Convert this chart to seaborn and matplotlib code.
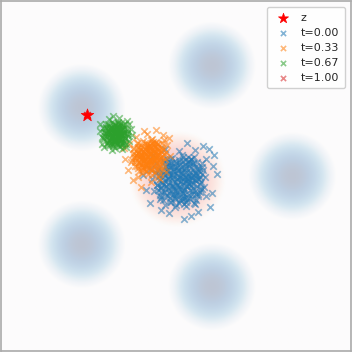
import numpy as np
import matplotlib
matplotlib.use("Agg")
import matplotlib.pyplot as plt
import seaborn as sns

# ---- data (data units, axis range -6..6) ----
mode_x = [4.00, 1.24, -3.24, -3.24, 1.24]
mode_y = [0.00, 3.80, 2.35, -2.35, -3.80]
mode_sigma = 0.5
mode_floor = -4.6          # log-density shown down to this level
init_x = [0.05]
init_y = [-0.10]
init_sigma = 0.5
init_floor = -5.5

z_x = [-3.07]
z_y = [2.10]

t0_x = [0.19, -0.24, 0.52, -0.01, 0.34, -0.48, 0.10, 0.73, -0.12, 0.45,
        -0.35, 0.16, -0.64, 0.59, -0.17, 0.88, -0.06, 0.28, -0.40, 0.42,
        0.05, 0.65, -0.29, 0.21, -0.56, 0.79, -0.81, 0.36, 0.08, -0.20,
        0.54, -0.44, 0.25, -0.02, 1.00, -0.26, 0.69, -0.68, 0.31, -0.09,
        0.48, 0.13, -0.51, 0.84, -0.14, 0.40, -0.37, 0.62, 0.02, 0.23,
        -0.60, 0.94, -0.22, 0.18, 0.56, -0.32, 0.33, -0.05, 0.75, -0.74,
        0.11, -0.46, 0.46, 1.04, -0.91, 0.38, 0.00, 0.26, -0.28, 0.68,
        1.32, 1.12, 0.52, -0.23, 1.22, 0.92, -0.53, 1.42, 0.27, -0.88,
        1.17, 0.77, -1.03, 0.37, 1.27, -0.38, 1.02, -0.78, 0.67, -1.13,
        0.15, -0.15, 0.43, -0.39, 0.21, 0.60, -0.04, 0.32, -0.25, 0.79,
        0.04, 0.51, -0.54, 0.24, 0.64, -0.11, 0.09, -0.67, 0.90, 0.35,
        0.15, -0.05, 0.42, -0.31, 0.32, 0.03, 0.61, -0.18, 0.23, 0.71,
        -0.45, 0.47, -0.09, 0.12, 0.54, -0.53, 0.36, -0.24, 0.81, -0.01,
        0.27, -0.36, 0.68, 0.08, 0.45, -0.60, 0.19, 0.58, -0.14, 0.76,
        -0.28, 0.31, -0.04, 0.39, -0.47, 0.86, 0.13, -0.21, 0.65, 0.02,
        0.50, -0.39, 0.22, -0.11, 0.79, -0.55, 0.43, 0.10, -0.33, 0.34,
        0.67, -0.06, 0.55, -0.64, 0.18, -0.23, 0.72, 0.05, 0.37, -0.42,
        0.90, -0.15, 0.25, 0.46, -0.50, 0.60, -0.02, 0.29, -0.30, 0.83,
        0.16, -0.19, 0.52, -0.58, 0.40, -0.08, 0.73, -0.37, 0.21, 0.62,
        -0.26, 0.30, -0.70, 0.57, 0.01, 0.48, -0.43, 0.95, -0.13, 0.11,
        0.38, -0.34, 0.77, -0.03, 0.24, -0.48, 0.53, -0.25, 0.69, 0.09,
        0.34, -0.62, 0.88, -0.10, 0.44, 0.04, 0.64, -0.40, 0.26, 0.20,
        -0.20, 0.81, -0.32, 0.56, -0.07, 0.41, -0.52, 0.70, 0.14, -0.17]
t0_y = [-0.07, 0.10, -0.30, -0.64, 0.26, -0.23, 0.49, 0.02, -0.39, -0.75,
        0.35, -0.17, 0.19, 0.46, -0.91, -0.45, 0.17, -0.48, -0.56, 0.00,
        -0.30, -0.14, -0.07, 0.71, -0.78, 0.29, -0.10, -1.03, 0.21, 0.59,
        -0.53, 0.07, 0.07, -0.50, -0.05, -0.70, -0.84, 0.43, 0.40, -0.04,
        0.15, -0.83, -0.41, -0.27, 0.34, -0.25, -0.98, 0.67, 0.03, -0.60,
        0.00, 0.21, -0.24, 0.32, -0.07, 0.22, -0.34, -1.07, -0.63, -0.53,
        0.86, 0.56, 0.52, -0.70, 0.25, -0.11, 0.45, -0.74, -0.45, 0.10,
        0.73, 0.93, -1.37, -1.27, -0.57, 1.03, -1.17, 0.08, -1.47, -0.92,
        -1.07, -1.22, -0.47, 1.13, 0.33, 0.93, 0.58, 0.73, 0.88, 0.03,
        -0.37, 0.03, 0.33, -0.16, 0.14, -0.41, -0.74, -0.20, 0.46, -0.11,
        -0.54, 0.57, -0.64, 0.53, -0.97, -0.33, -0.04, -0.30, 0.43, -0.88,
        -0.02, -0.22, -0.09, 0.14, -0.45, 0.30, 0.19, -0.51, -0.69, -0.36,
        -0.05, 0.43, 0.07, -0.35, -0.61, -0.39, 0.15, 0.38, -0.03, -0.80,
        -0.12, -0.65, 0.33, 0.17, -0.26, 0.24, -0.52, 0.04, -0.33, -0.70,
        -0.12, 0.54, 0.51, -0.82, -0.19, -0.22, 0.41, -0.74, -0.50, -0.09,
        0.26, 0.33, -0.27, -0.61, 0.17, 0.03, -0.64, -0.92, -0.45, 0.33,
        -0.13, 0.24, -0.77, -0.30, 0.09, 0.00, 0.48, -0.61, -0.34, 0.49,
        0.08, -0.08, 0.66, 0.10, -0.54, -0.29, -0.43, -0.97, 0.23, -0.54,
        0.24, -0.89, -0.07, -0.14, 0.47, -0.17, 0.25, 0.05, -0.74, -0.94,
        -0.27, -0.02, 0.11, 0.40, -1.01, -0.47, -0.81, -0.39, 0.63, -0.14,
        -0.17, -0.34, -0.09, 0.36, -0.59, 0.16, 0.57, -0.58, -0.63, 0.55,
        -0.72, -0.48, 0.32, 0.16, 0.01, -0.30, 0.12, -0.26, 0.23, -0.84,
        0.30, -0.44, 0.57, -0.19, -0.70, 0.64, -0.72, 0.01, -0.45, 0.46]

t33_x = [-0.90, -1.18, -0.71, -1.02, -0.82, -1.30, -0.95, -0.60, -1.12, -0.77,
         -1.40, -0.88, -1.05, -0.66, -1.22, -0.93, -0.54, -1.35, -0.99, -0.73,
         -1.15, -0.84, -1.08, -0.62, -1.48, -0.97, -0.79, -1.25, -0.50, -1.10,
         -0.86, -1.32, -0.68, -1.01, -0.92, -0.58, -1.20, -0.75, -1.43, -0.96,
         -0.81, -1.13, -0.45, -1.28, -0.70, -1.06, -0.89, -1.55, -0.64, -1.17,
         -0.40, -0.69, -1.10, -1.48, -1.21, -0.30, -1.75, -0.35, -1.60, -0.55,
         -1.30, -0.20, -0.85, -1.65, -0.45, -0.98, -1.80, -0.25, -1.38, -0.62,
         -0.93, -1.04, -0.78, -1.14, -0.87, -1.00, -0.72, -1.24, -0.66, -1.20,
         -0.85, -0.98, -0.57, -1.33, -0.91, -1.08, -0.76, -1.16, -0.83, -1.27,
         -0.91, -1.07, -0.70, -1.26, -0.78, -1.00, -0.57, -1.16, -0.85, -0.49,
         -1.36, -0.67, -1.09, -0.93, -0.62, -1.42, -0.76, -1.21, -0.42, -1.03,
         -0.82, -1.30, -0.52, -0.97, -0.69, -1.47, -0.88, -0.59, -1.13, -0.46,
         -1.23, -0.79, -1.06, -0.73, -1.38, -0.38, -0.93, -1.18, -0.54, -1.01,
         -0.65, -1.32, -0.86, -1.11, -0.43, -1.44, -0.70, -0.95, -1.27, -0.77,
         -0.52, -1.07, -0.61, -1.50, -0.89, -1.20, -0.49, -0.99, -0.75, -1.34,
         -0.35, -1.14, -0.84, -0.68, -1.40, -0.58, -1.04, -0.81, -1.25, -0.40,
         -0.90, -1.17, -0.64, -1.46, -0.72, -1.08, -0.48, -1.30, -0.87, -0.56]
t33_y = [0.76, 0.62, 0.55, 0.98, 0.89, 0.80, 0.41, 0.73, 0.45, 1.05,
         0.55, 0.60, 0.72, 0.92, 1.01, 0.28, 0.48, 0.33, 1.14, 0.35,
         0.85, 0.50, 0.58, 1.10, 0.74, 0.82, 0.67, 0.66, 0.86, 0.25,
         1.22, 1.12, 0.62, 0.50, 0.95, 0.30, 0.40, 0.80, 0.95, 0.64,
         0.20, 1.20, 0.65, 0.18, 1.18, 0.36, 1.06, 0.48, 0.44, 0.72,
         1.25, 1.59, 1.55, -0.14, -0.38, 1.05, 0.60, 0.15, 1.10, -0.10,
         -0.05, 0.70, -0.20, 0.20, 1.40, 1.45, 0.95, 1.30, 1.35, -0.05,
         0.70, 0.88, 0.58, 0.56, 0.80, 0.40, 0.98, 0.88, 0.72, 0.60,
         0.42, 1.05, 0.58, 0.68, 0.52, 0.78, 0.86, 0.30, 1.13, 0.48,
         0.75, 0.60, 0.69, 0.87, 0.42, 0.99, 0.91, 0.38, 0.25, 0.50,
         0.73, 1.09, 0.82, 0.50, 0.31, 0.47, 0.88, 1.05, 0.74, 0.16,
         0.67, 0.28, 1.01, 0.89, 0.57, 0.94, 0.37, 0.79, 0.52, 0.24,
         0.68, 1.17, 1.15, 0.15, 0.62, 0.60, 1.07, 0.21, 0.39, 0.70,
         0.96, 1.01, 0.56, 0.31, 0.89, 0.79, 0.28, 0.08, 0.43, 1.01,
         0.67, 0.94, 0.19, 0.54, 0.83, 0.76, 1.12, 0.31, 0.51, 1.13,
         0.82, 0.70, 1.26, 0.84, 0.36, 0.55, 0.44, 0.04, 0.94, 0.36,
         0.95, 0.10, 0.71, 0.66, 1.12, 0.64, 0.95, 0.80, 0.21, 0.06]

t67_x = [-2.05, -2.20, -1.92, -2.10, -1.98, -2.30, -2.07, -1.80, -2.18, -1.95,
         -2.38, -2.00, -2.12, -1.86, -2.25, -2.04, -1.75, -2.35, -2.09, -1.90,
         -2.22, -1.97, -2.14, -1.82, -2.45, -2.06, -1.94, -2.28, -1.70, -2.17,
         -2.01, -2.33, -1.88, -2.08, -2.03, -1.78, -2.26, -1.93, -2.42, -2.06,
         -1.96, -2.19, -1.68, -2.32, -1.89, -2.13, -2.02, -2.50, -1.84, -2.23,
         -1.55, -2.60, -1.62, -2.55, -1.95, -2.30, -1.70, -2.62, -1.85, -2.20,
         -1.50, -2.48, -1.60, -2.15, -1.72, -2.05, -2.11, -1.99, -2.16, -1.91,
         -2.24, -2.00, -2.10, -1.85, -2.27,
         -2.07, -2.20, -1.91, -2.34, -1.97, -2.14, -1.81, -2.26, -2.02, -1.74,
         -2.42, -1.88, -2.21, -2.09, -1.84, -2.46, -1.95, -2.30, -1.69, -2.16,
         -2.00, -2.37, -1.77, -2.12, -1.90, -2.50, -2.05, -1.82, -2.24, -1.72,
         -2.32, -1.98, -2.18, -1.93, -2.43, -1.66, -2.09, -2.28, -1.78, -2.15,
         -1.87, -2.39, -2.03, -2.22, -1.70, -2.48, -1.91, -2.10, -2.35, -1.96,
         -1.77, -2.19, -1.84, -2.53, -2.05, -2.29, -1.74, -2.13, -1.94, -2.40]
t67_y = [1.50, 1.38, 1.42, 1.65, 1.60, 1.52, 1.25, 1.48, 1.22, 1.74,
         1.35, 1.36, 1.47, 1.63, 1.70, 1.12, 1.30, 1.18, 1.80, 1.20,
         1.58, 1.30, 1.33, 1.76, 1.48, 1.55, 1.46, 1.42, 1.56, 1.10,
         1.86, 1.78, 1.40, 1.28, 1.68, 1.15, 1.24, 1.55, 1.64, 1.40,
         1.02, 1.85, 1.43, 1.05, 1.83, 1.16, 1.73, 1.30, 1.27, 1.45,
         1.60, 1.55, 1.20, 1.10, 2.00, 1.95, 1.90, 1.80, 0.92, 0.90,
         1.40, 0.98, 1.78, 2.05, 1.00, 1.44, 1.58, 1.34, 1.39, 1.52,
         1.32, 1.62, 1.20, 1.45, 1.60,
         1.49, 1.37, 1.44, 1.58, 1.23, 1.68, 1.61, 1.20, 1.10, 1.30,
         1.47, 1.75, 1.54, 1.30, 1.15, 1.27, 1.59, 1.72, 1.48, 1.03,
         1.42, 1.13, 1.69, 1.60, 1.35, 1.64, 1.20, 1.52, 1.31, 1.10,
         1.43, 1.82, 1.80, 1.02, 1.39, 1.37, 1.74, 1.07, 1.21, 1.45,
         1.65, 1.69, 1.34, 1.15, 1.60, 1.52, 1.13, 0.97, 1.24, 1.69,
         1.43, 1.64, 1.06, 1.33, 1.55, 1.50, 1.78, 1.15, 1.30, 1.78]

t100_x = [-3.07, -3.07, -3.07]
t100_y = [2.10, 2.10, 2.10]

labels = ["t=0.00", "t=0.33", "t=0.67", "t=1.00"]
series = [(t0_x, t0_y), (t33_x, t33_y), (t67_x, t67_y), (t100_x, t100_y)]

# ---- figure ----
sns.set_theme(style="white")
plt.rcParams['font.family'] = ['DejaVu Sans']
fig = plt.figure(figsize=(3.52, 3.52), dpi=100)
ax = fig.add_axes([0.004, 0.004, 0.992, 0.992])

lim = 6.0
g = np.linspace(-lim, lim, 400)
GX, GY = np.meshgrid(g, g)
target = np.zeros_like(GX)
for mx, my in zip(mode_x, mode_y):
    target += np.exp(-((GX - mx) ** 2 + (GY - my) ** 2) / (2 * mode_sigma ** 2))
init = np.zeros_like(GX)
for mx, my in zip(init_x, init_y):
    init += np.exp(-((GX - mx) ** 2 + (GY - my) ** 2) / (2 * init_sigma ** 2))
log_target = np.log(target + 1e-300)
log_init = np.log(init + 1e-300)

ax.imshow(log_init, extent=(-lim, lim, -lim, lim), origin="lower", cmap="Reds",
          alpha=0.26, vmin=init_floor, vmax=0.0, interpolation="bilinear", zorder=0)
ax.imshow(log_target, extent=(-lim, lim, -lim, lim), origin="lower", cmap="Blues",
          alpha=0.27, vmin=mode_floor, vmax=0.0, interpolation="bilinear", zorder=1)

sns.scatterplot(x=z_x, y=z_y, marker="*", s=90, color="red", edgecolor="red",
                linewidth=0.5, label="z", ax=ax, zorder=6)
pal = sns.color_palette("tab10")
for (xs, ys), lab, c in zip(series, labels, pal[:4]):
    sns.scatterplot(x=xs, y=ys, marker="x", s=22, color=c, linewidth=1.2,
                    alpha=0.55, label=lab, ax=ax, zorder=3)

ax.set_xlim(-lim, lim)
ax.set_ylim(-lim, lim)
ax.set_xticks([])
ax.set_yticks([])
ax.set_xlabel("")
ax.set_ylabel("")
for sp in ax.spines.values():
    sp.set_color("#aaaaaa")
    sp.set_linewidth(1.2)

ax.legend(loc="upper right", fontsize=8, labelspacing=0.45, handletextpad=0.6,
          borderpad=0.5, markerscale=0.8, framealpha=0.9)

fig.savefig("out.png", dpi=100)
